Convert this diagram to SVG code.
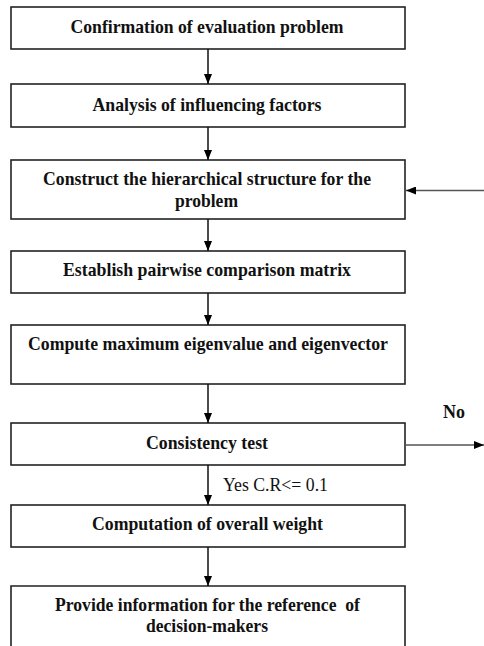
<svg xmlns="http://www.w3.org/2000/svg" width="484" height="646" viewBox="0 0 484 646">
<style>
.box{fill:#fff;stroke:#222;stroke-width:1.6}
.t{font-family:"Liberation Serif","Times New Roman",serif;font-weight:bold;font-size:19px;fill:#111;text-anchor:middle}
.lbl{font-family:"Liberation Serif","Times New Roman",serif;font-size:18px;fill:#111}
.c{fill:none;stroke:#111;stroke-width:1.5}
.g{fill:none;stroke:#555;stroke-width:1.6}
</style>
<defs>
<marker id="ah" viewBox="0 0 10 8" refX="10" refY="4" markerWidth="10" markerHeight="8" markerUnits="userSpaceOnUse" orient="auto">
<path d="M0,0 L10,4 L0,8 Z" fill="#000"/>
</marker>
</defs>
<rect width="484" height="646" fill="#fff"/>
<g id="n1"><rect class="box" x="11" y="7" width="394" height="42"/><text class="t" x="207" y="33" textLength="273" lengthAdjust="spacingAndGlyphs">Confirmation of evaluation problem</text></g>
<g id="n2"><rect class="box" x="11" y="84" width="394" height="43"/><text class="t" x="207" y="111" textLength="229" lengthAdjust="spacingAndGlyphs">Analysis of influencing factors</text></g>
<g id="n3"><rect class="box" x="11" y="160" width="394" height="59"/><text class="t" x="207" y="185" textLength="328" lengthAdjust="spacingAndGlyphs">Construct the hierarchical structure for the</text><text class="t" x="206.5" y="207" textLength="63" lengthAdjust="spacingAndGlyphs">problem</text></g>
<g id="n4"><rect class="box" x="11" y="251" width="394" height="42"/><text class="t" x="207" y="276" textLength="288" lengthAdjust="spacingAndGlyphs">Establish pairwise comparison matrix</text></g>
<g id="n5"><rect class="box" x="11" y="325" width="394" height="59"/><text class="t" x="208" y="350" textLength="360" lengthAdjust="spacingAndGlyphs">Compute maximum eigenvalue and eigenvector</text></g>
<g id="n6"><rect class="box" x="11" y="423" width="394" height="42"/><text class="t" x="207" y="449" textLength="122" lengthAdjust="spacingAndGlyphs">Consistency test</text></g>
<g id="n7"><rect class="box" x="11" y="505" width="394" height="42"/><text class="t" x="207.5" y="530" textLength="231" lengthAdjust="spacingAndGlyphs">Computation of overall weight</text></g>
<g id="n8"><path class="box" d="M11,650 L11,586 L405,586 L405,650"/><text class="t" x="207.5" y="611" textLength="305" lengthAdjust="spacingAndGlyphs" style="white-space:pre">Provide information for the reference  of</text><text class="t" x="207" y="632" textLength="122" lengthAdjust="spacingAndGlyphs">decision-makers</text></g>
<g id="connectors">
<line class="c" x1="208" y1="49" x2="208" y2="84" marker-end="url(#ah)"/>
<line class="c" x1="208" y1="127" x2="208" y2="160" marker-end="url(#ah)"/>
<line class="c" x1="208" y1="219" x2="208" y2="251" marker-end="url(#ah)"/>
<line class="c" x1="208" y1="293" x2="208" y2="325" marker-end="url(#ah)"/>
<line class="c" x1="208" y1="384" x2="208" y2="423" marker-end="url(#ah)"/>
<line class="c" x1="208" y1="465" x2="208" y2="505" marker-end="url(#ah)"/>
<line class="c" x1="208" y1="547" x2="208" y2="586" marker-end="url(#ah)"/>
<line class="g" x1="484" y1="190.5" x2="406" y2="190.5" marker-end="url(#ah)"/>
<line class="g" x1="405" y1="445" x2="484" y2="445" marker-end="url(#ah)"/>
<text class="lbl" x="223" y="491" textLength="105" lengthAdjust="spacingAndGlyphs">Yes C.R&lt;= 0.1</text>
<text class="lbl" x="443" y="418" font-weight="bold" textLength="22" lengthAdjust="spacingAndGlyphs">No</text>
</g>
</svg>
